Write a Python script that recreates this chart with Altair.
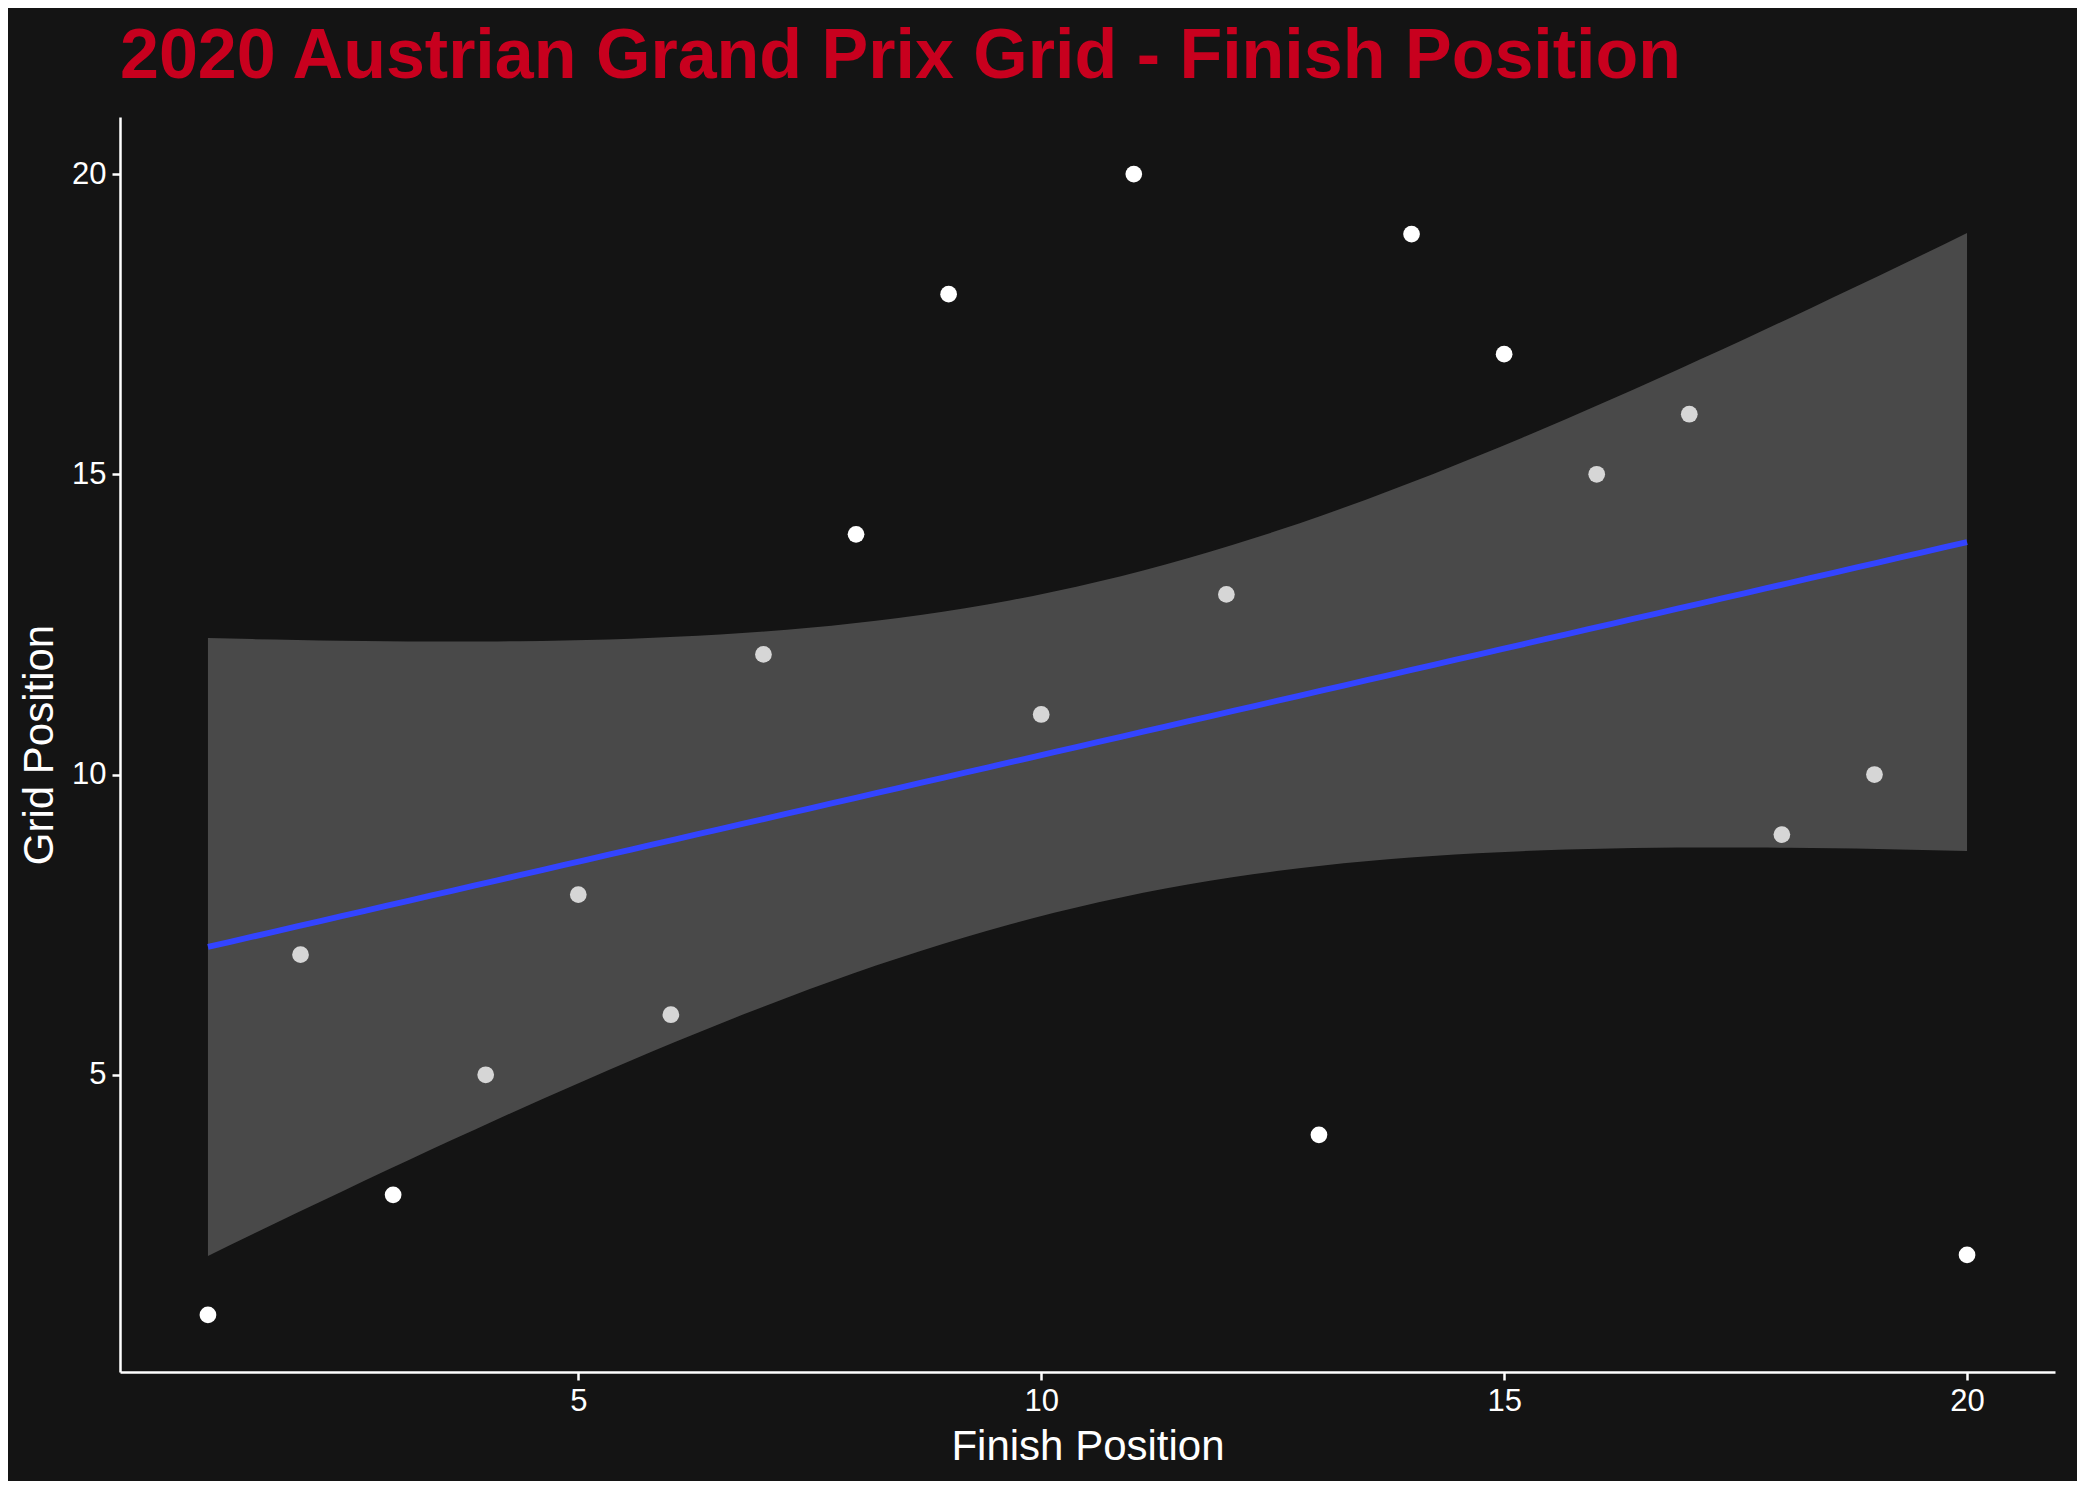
import altair as alt
import numpy as np
import pandas as pd

finish = [1, 2, 3, 4, 5, 6, 7, 8, 9, 10, 11, 12, 13, 14, 15, 16, 17, 18, 19, 20]
grid = [1, 7, 3, 5, 8, 6, 12, 14, 18, 11, 20, 13, 4, 19, 17, 15, 16, 9, 10, 2]

points = pd.DataFrame({"finish": finish, "grid": grid})

# linear fit with 95% confidence band (like geom_smooth(method="lm"))
x = np.array(finish, dtype=float)
y = np.array(grid, dtype=float)
n = len(x)
slope, intercept = np.polyfit(x, y, 1)
resid = y - (intercept + slope * x)
s = np.sqrt((resid ** 2).sum() / (n - 2))
t = 2.100922  # t(0.975, df=18)
xs = np.linspace(x.min(), x.max(), 80)
fit = intercept + slope * xs
se = s * np.sqrt(1 / n + (xs - x.mean()) ** 2 / ((x - x.mean()) ** 2).sum())
band = pd.DataFrame({"finish": xs, "fit": fit, "lo": fit - t * se, "hi": fit + t * se})

xscale = alt.Scale(domain=[0.05, 20.95], nice=False, zero=False)
yscale = alt.Scale(domain=[0.05, 20.95], nice=False, zero=False)
xaxis = alt.Axis(values=[5, 10, 15, 20], format="d", title="Finish Position", grid=False)
yaxis = alt.Axis(values=[5, 10, 15, 20], format="d", title="Grid Position", grid=False)

pts = alt.Chart(points).mark_circle(size=280, color="white", opacity=1).encode(
    x=alt.X("finish:Q", scale=xscale, axis=xaxis),
    y=alt.Y("grid:Q", scale=yscale, axis=yaxis),
)
area = alt.Chart(band).mark_area(color="#999999", opacity=0.4).encode(
    x=alt.X("finish:Q", scale=xscale), y=alt.Y("lo:Q", scale=yscale), y2="hi:Q"
)
line = alt.Chart(band).mark_line(color="#3344ff", strokeWidth=6).encode(
    x=alt.X("finish:Q", scale=xscale), y=alt.Y("fit:Q", scale=yscale)
)

chart = (
    alt.layer(pts, area, line)
    .properties(
        width=1935,
        height=1255,
        background="#141414",
        title=alt.TitleParams(
            "2020 Austrian Grand Prix Grid - Finish Position",
            anchor="start",
            frame="group",
            color="#C8001E",
            font="Liberation Sans",
            fontSize=70,
            fontWeight="bold",
            offset=24,
        ),
        padding={"left": 10, "top": 14, "right": 22, "bottom": 14},
    )
    .configure_view(stroke=None)
    .configure_axis(
        domainColor="white",
        domainWidth=2.5,
        tickColor="white",
        tickWidth=2.5,
        tickSize=8,
        labelColor="white",
        labelFont="Liberation Sans",
        labelFontSize=31,
        labelPadding=6,
        titleColor="white",
        titleFont="Liberation Sans",
        titleFontSize=42,
        titleFontWeight="normal",
        titlePadding=10,
    )
)

chart.save("out.html", embed_options={"renderer": "svg", "actions": False})
